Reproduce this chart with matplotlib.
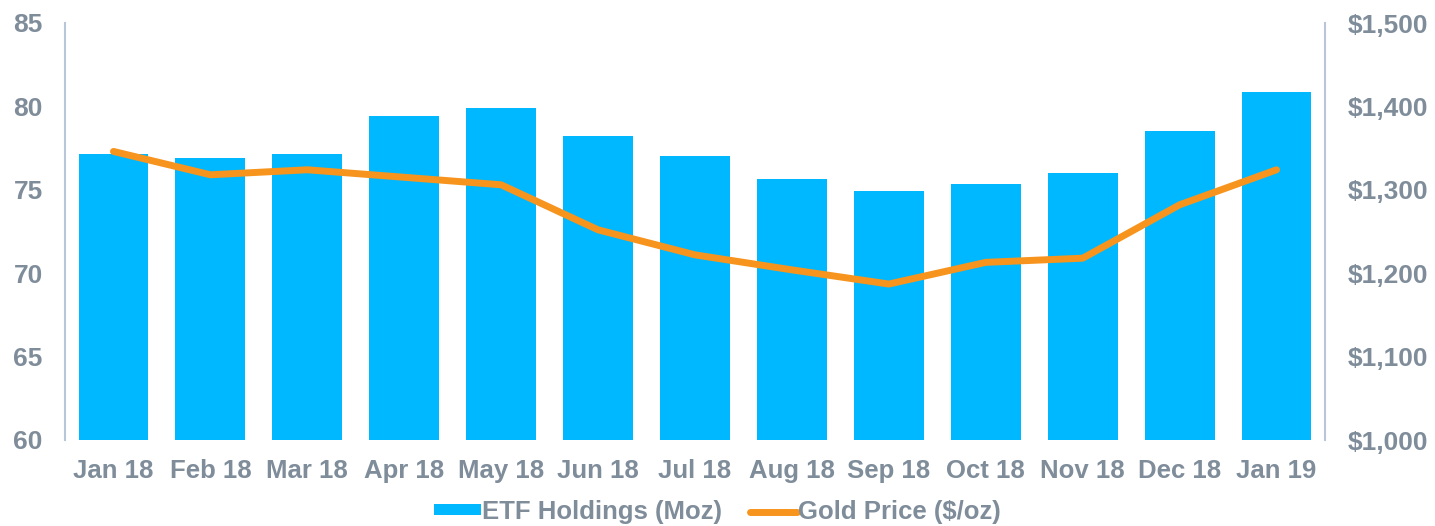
import matplotlib.pyplot as plt
from matplotlib.ticker import FuncFormatter

months = ["Jan 18", "Feb 18", "Mar 18", "Apr 18", "May 18", "Jun 18", "Jul 18",
          "Aug 18", "Sep 18", "Oct 18", "Nov 18", "Dec 18", "Jan 19"]
etf_holdings = [77.15, 76.9, 77.15, 79.4, 79.9, 78.2, 77.0, 75.65, 74.9, 75.35, 76.0, 78.5, 80.85]
gold_price = [1346, 1318, 1324, 1315, 1306, 1252, 1222, 1204, 1187, 1213, 1218, 1282, 1324]

plt.rcParams['font.family'] = ['Liberation Sans', 'DejaVu Sans']
plt.rcParams['font.weight'] = 'bold'

text_col = "#7f8c9a"
spine_col = "#b8c6d8"
bar_col = "#00b8ff"
line_col = "#f7941d"

fig = plt.figure(figsize=(14.35, 5.26), dpi=100)
ax = fig.add_axes([65 / 1435, 86 / 526, 1260 / 1435, 417 / 526])
x = range(len(months))
bars = ax.bar(x, etf_holdings, width=0.72, color=bar_col, label="ETF Holdings (Moz)", zorder=2)
ax.set_ylim(60, 85)
ax.set_xlim(-0.5, len(months) - 0.5)
ax.set_yticks([60, 65, 70, 75, 80, 85])

ax2 = ax.twinx()
line, = ax2.plot(x, gold_price, color=line_col, lw=5, solid_capstyle='round',
                 solid_joinstyle='round', label="Gold Price ($/oz)", zorder=3)
ax2.set_ylim(1000, 1500)
ax2.set_yticks(range(1000, 1501, 100))
ax2.yaxis.set_major_formatter(FuncFormatter(lambda v, p: f"${v:,.0f}"))

for a in (ax, ax2):
    for s in a.spines.values():
        s.set_visible(False)
    a.tick_params(length=0, labelcolor=text_col)
ax.spines['left'].set_visible(True)
ax.spines['left'].set_color(spine_col)
ax.spines['left'].set_linewidth(1.5)
ax2.spines['right'].set_visible(True)
ax2.spines['right'].set_color(spine_col)
ax2.spines['right'].set_linewidth(1.5)

ax.set_xticks(list(x))
ax.set_xticklabels(months, fontsize=18.5)
ax.tick_params(axis='x', pad=14)
ax.tick_params(axis='y', labelsize=19, pad=16)
ax2.tick_params(axis='y', labelsize=19, pad=16)

fig.legend([bars, line], ["ETF Holdings (Moz)", "Gold Price ($/oz)"], loc='center',
           bbox_to_anchor=(0.5, 14 / 526), ncol=2, frameon=False, fontsize=18.5,
           labelcolor=text_col, handlelength=1.8, handleheight=0.27,
           handletextpad=0.05, columnspacing=1.1, borderpad=0)

fig.savefig("out.png", dpi=100)
